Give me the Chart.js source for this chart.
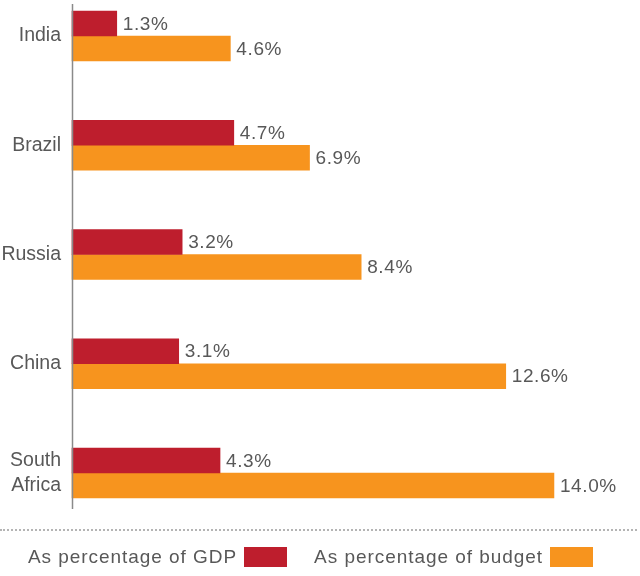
<!DOCTYPE html>
<html>
<head>
<meta charset="utf-8">
<script src="https://cdn.jsdelivr.net/npm/chart.js@4/dist/chart.umd.min.js"></script>
<style>
  html, body { margin: 0; padding: 0; background: #fff; }
  #wrap { position: relative; width: 640px; height: 576px; overflow: hidden; }
  #chartBox { position: absolute; left: 0; top: 0; width: 640px; height: 576px; }
  #rule { position: absolute; left: 0; top: 529px; width: 637px; height: 0; border-top: 2px dotted #b4b4b4; }
  #legend { position: absolute; left: 28px; top: 547px; height: 20px; display: flex; align-items: center;
            font-family: "Liberation Sans", Arial, Helvetica, sans-serif; font-size: 19px; letter-spacing: 0.95px; color: #585858; }
  .item { display: flex; align-items: center; margin-right: 27px; }
  .sw { width: 43px; height: 20px; margin-left: 7px; }
</style>
</head>
<body>
<div id="wrap">
  <div id="chartBox"><canvas id="c"></canvas></div>
  <div id="rule"></div>
  <div id="legend"></div>
</div>
<script>
const categories = ['India', 'Brazil', 'Russia', 'China', ['South', 'Africa']];
const seriesNames = ['As percentage of GDP', 'As percentage of budget'];
const gdpValues = [1.3, 4.7, 3.2, 3.1, 4.3];
const budgetValues = [4.6, 6.9, 8.4, 12.6, 14.0];
const seriesColors = ['#BE1E2D', '#F7941E'];

const FONT = '"Liberation Sans", Arial, Helvetica, sans-serif';

const valueLabels = {
  id: 'valueLabels',
  afterDatasetsDraw(chart) {
    const ctx = chart.ctx;
    ctx.save();
    ctx.font = '19px ' + FONT;
    ctx.fillStyle = '#585858';
    ctx.textAlign = 'left';
    ctx.textBaseline = 'middle';
    if ('letterSpacing' in ctx) ctx.letterSpacing = '0.6px';
    chart.data.datasets.forEach((ds, di) => {
      const meta = chart.getDatasetMeta(di);
      meta.data.forEach((bar, i) => {
        ctx.fillText(ds.data[i].toFixed(1) + '%', bar.x + 6, bar.y + 1);
      });
    });
    if ('letterSpacing' in ctx) ctx.letterSpacing = '0px';
    ctx.restore();
  }
};

const axisLine = {
  id: 'axisLine',
  afterDraw(chart) {
    const ctx = chart.ctx;
    const x = chart.chartArea.left + 0.5;
    ctx.save();
    ctx.strokeStyle = '#8a8a8a';
    ctx.lineWidth = 1.5;
    ctx.beginPath();
    ctx.moveTo(x, 4);
    ctx.lineTo(x, 509);
    ctx.stroke();
    ctx.restore();
  }
};

const chart = new Chart(document.getElementById('c'), {
  type: 'bar',
  data: {
    labels: categories,
    datasets: [
      { label: seriesNames[0], data: gdpValues, backgroundColor: seriesColors[0], barThickness: 25, borderWidth: 0, clip: false },
      { label: seriesNames[1], data: budgetValues, backgroundColor: seriesColors[1], barThickness: 25, borderWidth: 0, clip: false }
    ]
  },
  options: {
    indexAxis: 'y',
    responsive: true,
    maintainAspectRatio: false,
    animation: false,
    layout: { padding: { top: 36, bottom: 103, left: 0, right: 0 } },
    plugins: { legend: { display: false }, tooltip: { enabled: false } },
    scales: {
      x: { display: false, min: 0, max: 16.5 },
      y: {
        type: 'category',
        offset: false,
        grid: { display: false, drawTicks: false },
        border: { display: false },
        ticks: { color: '#585858', font: { family: FONT, size: 19.5, lineHeight: 1.25 }, padding: 11 },
        afterFit(scale) { scale.width = 72; }
      }
    }
  },
  plugins: [valueLabels, axisLine]
});

const legend = document.getElementById('legend');
chart.data.datasets.forEach(ds => {
  const item = document.createElement('div');
  item.className = 'item';
  const t = document.createElement('span');
  t.textContent = ds.label;
  const sw = document.createElement('span');
  sw.className = 'sw';
  sw.style.background = ds.backgroundColor;
  item.appendChild(t);
  item.appendChild(sw);
  legend.appendChild(item);
});
</script>
</body>
</html>
